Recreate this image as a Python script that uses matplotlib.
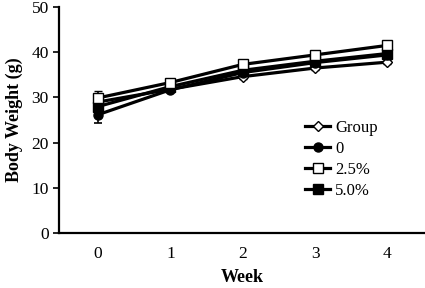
import matplotlib
matplotlib.use("Agg")
import matplotlib.pyplot as plt
from matplotlib.lines import Line2D

weeks = [0, 1, 2, 3, 4]
group = [29.0, 31.8, 34.6, 36.5, 37.8]
dose_0 = [26.2, 31.7, 35.5, 37.7, 39.4]
dose_25 = [29.9, 33.3, 37.3, 39.4, 41.5]
dose_50 = [28.0, 32.4, 36.0, 38.0, 39.7]
err_group = [1.0, 0.5, 0.5, 0.5, 0.5]
err_0 = [1.9, 0.5, 0.5, 0.5, 0.5]
err_25 = [1.6, 0.5, 0.5, 0.5, 0.5]
err_50 = [1.2, 0.5, 0.5, 0.5, 0.5]

plt.rcParams['font.family'] = ['Liberation Serif', 'DejaVu Serif']

fig = plt.figure(figsize=(4.25, 2.88), dpi=100)
ax = fig.add_axes([0.138, 0.19, 0.862, 0.786])

style = dict(color='black', lw=2.3, ms=6.5, elinewidth=1.2, capsize=3, capthick=1.2)
ax.errorbar(weeks, group, yerr=err_group, marker='D', mfc='white', mec='black',
            mew=1.0, ms=5.5, color='black', lw=2.3, elinewidth=1.2, capsize=3, capthick=1.2)
ax.errorbar(weeks, dose_0, yerr=err_0, marker='o', mfc='black', mec='black', **style)
ax.errorbar(weeks, dose_50, yerr=err_50, marker='s', mfc='black', mec='black', **style)
ax.errorbar(weeks, dose_25, yerr=err_25, marker='s', mfc='white', mec='black', mew=1.0, **style)

ax.set_xlim(-0.545, 4.52)
ax.set_ylim(0, 50)
ax.set_yticks([0, 10, 20, 30, 40, 50])
ax.set_xticks(weeks)
ax.tick_params(axis='x', length=0, pad=9, labelsize=12.5)
ax.tick_params(axis='y', length=4, width=1.2, direction='out', pad=3, labelsize=12.5)
for side in ['top', 'right']:
    ax.spines[side].set_visible(False)
for side in ['left', 'bottom']:
    ax.spines[side].set_linewidth(1.6)

ax.set_ylabel('Body Weight (g)', fontsize=13, fontweight='bold', labelpad=6)
fig.text(0.569, 0.035, 'Week', fontsize=13, fontweight='bold', ha='center', va='center')

handles = [
    Line2D([], [], color='black', lw=2.3, marker='D', mfc='white', mec='black', mew=1.0, ms=5.5),
    Line2D([], [], color='black', lw=2.3, marker='o', mfc='black', mec='black', ms=6.5),
    Line2D([], [], color='black', lw=2.3, marker='s', mfc='white', mec='black', mew=1.0, ms=6.5),
    Line2D([], [], color='black', lw=2.3, marker='s', mfc='black', mec='black', ms=6.5),
]
ax.legend(handles, ['Group', '0', '2.5%', '5.0%'],
          loc='upper left', bbox_to_anchor=(0.655, 0.53), frameon=False,
          fontsize=12, handlelength=1.5, handletextpad=0.3, labelspacing=0.3,
          borderaxespad=0)

fig.savefig('out.png', dpi=100)
